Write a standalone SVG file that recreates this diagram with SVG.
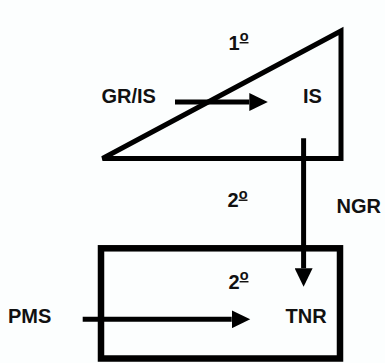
<svg xmlns="http://www.w3.org/2000/svg" width="385" height="363" viewBox="0 0 385 363">
  <style>
    .lbl { font-family: "Liberation Sans", Arial, sans-serif; font-weight: bold; font-size: 20px; fill: #111; }
    .ord { font-size: 14.5px; text-decoration: underline; }
    .shape { fill: none; stroke: #000; }
    .conn { fill: none; stroke: #000; stroke-width: 5; }
  </style>
  <defs>
    <marker id="head" markerUnits="userSpaceOnUse" markerWidth="19" markerHeight="18" refX="0" refY="9" orient="auto" viewBox="0 0 19 18">
      <path d="M0,0 L18.5,9 L0,18 Z" fill="#000"/>
    </marker>
  </defs>
  <rect width="385" height="363" fill="#fcfefe"/>

  <g id="node-1">
    <polygon class="shape" stroke-width="5" points="102.5,158.5 341,31 341,158.5"/>
    <text class="lbl" x="228.5" y="49.5">1<tspan class="ord" dy="-8.5">o</tspan></text>
  </g>
  <g id="node-IS">
    <text class="lbl" x="303" y="103">IS</text>
  </g>
  <g id="node-GRIS">
    <text class="lbl" x="101.5" y="103">GR/IS</text>
  </g>
  <g id="node-2">
    <rect class="shape" stroke-width="6.5" x="101" y="248.3" width="239" height="110.2"/>
    <text class="lbl" x="228.5" y="288.5">2<tspan class="ord" dy="-8.5">o</tspan></text>
  </g>
  <g id="node-TNR">
    <text class="lbl" x="285.5" y="322.7">TNR</text>
  </g>
  <g id="node-PMS">
    <text class="lbl" x="8" y="322.7">PMS</text>
  </g>
  <g id="node-NGR">
    <text class="lbl" x="336.5" y="212.7">NGR</text>
  </g>
  <g id="label-2-between">
    <text class="lbl" x="227.5" y="207">2<tspan class="ord" dy="-8.5">o</tspan></text>
  </g>

  <g id="connectors">
    <line class="conn" x1="175" y1="102" x2="249.3" y2="102" marker-end="url(#head)"/>
    <line class="conn" x1="82.7" y1="319.3" x2="231.7" y2="319.3" marker-end="url(#head)"/>
    <line class="conn" x1="303.6" y1="138.3" x2="303.6" y2="268.3" marker-end="url(#head)"/>
  </g>
</svg>
